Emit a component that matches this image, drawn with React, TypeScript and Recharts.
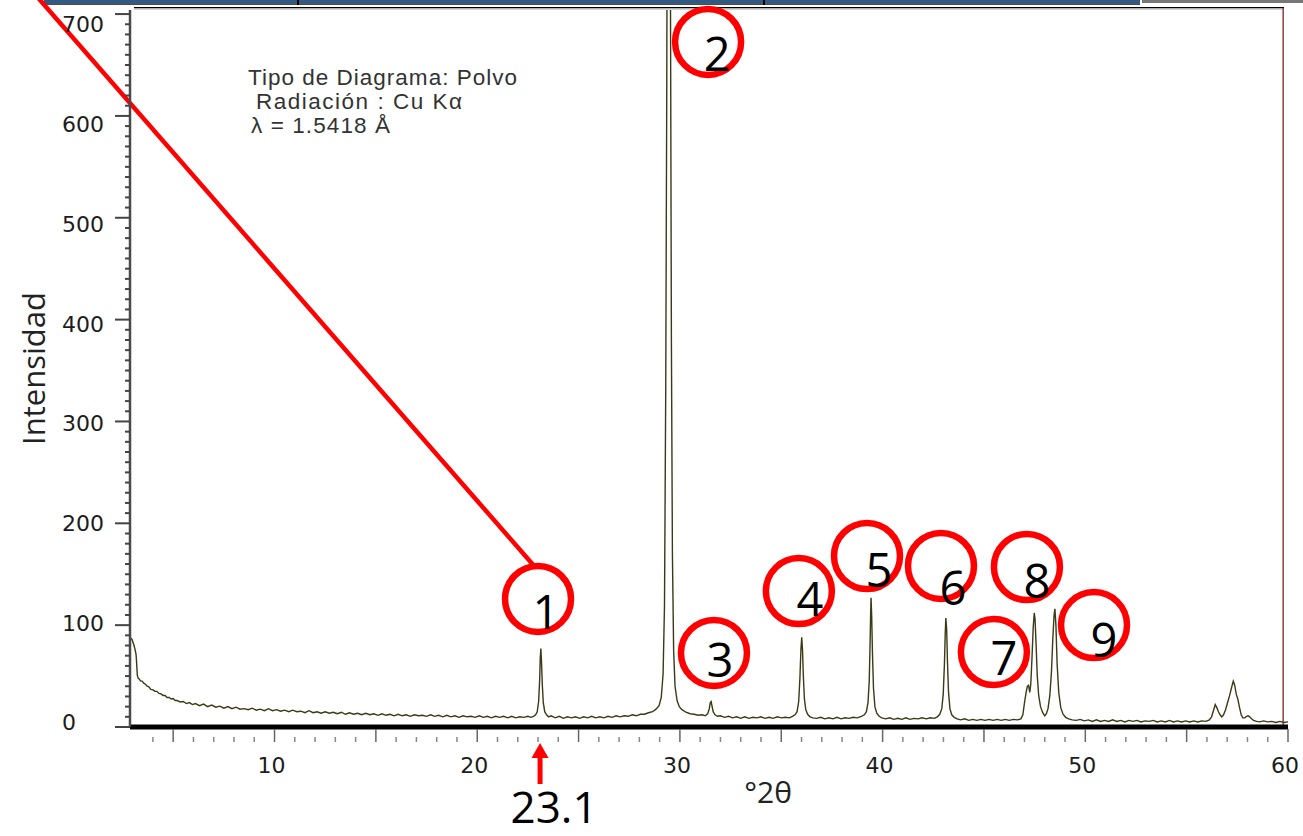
import React from 'react';
import { LineChart, Line, XAxis, YAxis, ReferenceDot, ReferenceLine } from 'recharts';

// scan: [°2θ, intensity]
const lowAngle: [number, number][] = [
  [2.87, 88], [2.92, 87], [2.97, 86], [3.02, 83], [3.07, 80], [3.12, 76], [3.17, 71], [3.2, 62], [3.23, 51],
  [3.27, 48], [3.33, 47], [3.4, 45], [3.47, 45], [3.55, 43], [3.63, 42], [3.72, 40], [3.8, 39.5], [3.9, 37],
  [4.0, 36.5], [4.1, 35], [4.2, 35], [4.3, 33], [4.4, 32.5], [4.5, 31], [4.6, 31], [4.7, 29], [4.8, 29],
  [4.9, 27.5], [5.0, 28], [5.1, 26], [5.2, 26], [5.35, 24.5], [5.5, 25], [5.65, 23], [5.8, 24], [5.95, 22],
];

const background: [number, number][] = [
  [6.1, 23], [6.3, 21], [6.5, 22.5], [6.7, 20], [6.9, 21.5], [7.1, 19.5], [7.3, 20.5], [7.5, 18.5], [7.7, 20],
  [7.9, 18], [8.1, 19.5], [8.3, 17.5], [8.5, 18], [8.7, 17], [8.9, 18.5], [9.1, 16.5], [9.3, 17.5], [9.5, 16],
  [9.7, 18], [9.9, 16], [10.1, 17], [10.3, 15.5], [10.5, 16.5], [10.7, 15], [10.9, 16.5], [11.1, 15], [11.3, 15.5],
  [11.5, 14], [11.7, 16], [11.9, 14], [12.1, 15], [12.3, 13.5], [12.5, 15], [12.7, 13.5], [12.9, 14.5], [13.1, 13],
  [13.3, 14.5], [13.5, 12.5], [13.7, 14], [13.9, 12.5], [14.1, 13.5], [14.3, 12], [14.5, 13.5], [14.7, 12],
  [14.9, 13], [15.1, 11.5], [15.3, 13], [15.5, 11.5], [15.7, 12.5], [15.9, 11], [16.1, 12.5], [16.3, 11],
  [16.5, 12], [16.7, 10.5], [16.9, 12], [17.1, 11], [17.3, 11.5], [17.5, 10.5], [17.7, 12], [17.9, 10.5],
  [18.1, 11.5], [18.3, 10], [18.5, 11.5], [18.7, 10], [18.9, 11], [19.1, 9.5], [19.3, 11], [19.5, 10],
  [19.7, 10.5], [19.9, 9.5], [20.1, 11], [20.3, 9.5], [20.5, 10.5], [20.7, 9], [20.9, 10.5], [21.1, 9.5],
  [21.3, 10.5], [21.5, 9], [21.7, 10.5], [21.9, 9], [22.1, 10], [22.3, 9.5], [22.5, 10.5], [22.65, 9.5],
];

const peak1: [number, number][] = [
  [22.78, 10.5], [22.88, 12], [22.96, 15], [23.03, 25], [23.08, 46], [23.11, 68], [23.14, 77], [23.17, 65],
  [23.21, 42], [23.26, 24], [23.33, 15], [23.42, 12], [23.52, 10],
];

const mainPeak: [number, number][] = [
  [23.65, 11], [23.85, 9], [24.05, 10.5], [24.25, 8.5], [24.45, 10], [24.65, 9], [24.85, 10], [25.05, 8.5],
  [25.25, 10], [25.45, 9], [25.65, 10.5], [25.85, 9], [26.05, 10], [26.25, 9], [26.45, 10.5], [26.65, 9.5],
  [26.85, 11], [27.05, 10], [27.25, 11], [27.45, 10.5], [27.65, 12], [27.85, 11], [28.05, 12.5], [28.25, 12.5],
  [28.45, 14], [28.65, 15], [28.82, 17.5], [28.97, 21], [29.08, 29], [29.17, 52], [29.24, 120], [29.3, 330],
  [29.35, 620], [29.39, 950], [29.45, 1400], [29.5, 1000], [29.54, 680], [29.58, 380], [29.63, 170], [29.69, 75],
  [29.76, 40], [29.86, 26], [29.97, 20], [30.1, 17], [30.3, 14.5], [30.5, 13], [30.7, 12.5], [30.9, 11.5],
  [31.1, 12], [31.25, 11],
];

const peaks3and4: [number, number][] = [
  [31.37, 13], [31.45, 18], [31.5, 24], [31.54, 25], [31.58, 21], [31.64, 15], [31.73, 12], [31.85, 10.5],
  [32.0, 11], [32.2, 9.5], [32.4, 10.5], [32.6, 9], [32.8, 10], [33.0, 8.5], [33.2, 10], [33.4, 8.5], [33.6, 9.5],
  [33.8, 9], [34.0, 10], [34.2, 8.5], [34.4, 9.5], [34.6, 8.5], [34.8, 10], [35.0, 9], [35.2, 9.5], [35.4, 9],
  [35.55, 10.5], [35.68, 12], [35.78, 15], [35.86, 25], [35.92, 48], [35.97, 76], [36.01, 88], [36.05, 75],
  [36.09, 50], [36.14, 28], [36.21, 17], [36.3, 12.5], [36.42, 10], [36.56, 9],
];

const peaks5and6: [number, number][] = [
  [36.75, 8.5], [36.95, 9.5], [37.15, 8], [37.35, 9], [37.55, 8], [37.75, 9.5], [37.95, 8], [38.15, 9],
  [38.35, 8.5], [38.55, 9.5], [38.75, 9], [38.95, 10.5], [39.1, 12], [39.2, 15], [39.28, 24], [39.34, 45],
  [39.38, 80], [39.41, 112], [39.43, 127], [39.46, 110], [39.5, 72], [39.55, 38], [39.62, 20], [39.71, 13.5],
  [39.83, 10.5], [39.96, 9], [40.15, 8], [40.35, 9], [40.55, 7.5], [40.75, 8.5], [40.95, 7.5], [41.15, 9],
  [41.35, 7.5], [41.55, 8.5], [41.75, 8], [41.95, 9], [42.15, 8], [42.35, 9], [42.55, 8.5], [42.7, 10],
  [42.82, 12.5], [42.92, 18], [42.99, 32], [43.05, 62], [43.09, 92], [43.12, 107], [43.16, 96], [43.2, 64],
  [43.25, 35], [43.32, 18], [43.41, 12], [43.53, 9.5], [43.68, 8],
];

const triplet: [number, number][] = [
  [43.85, 7], [44.05, 8], [44.25, 6.5], [44.45, 7.5], [44.65, 6.5], [44.85, 7.5], [45.05, 6.5], [45.25, 7.5],
  [45.45, 6.5], [45.65, 7.5], [45.85, 6.5], [46.05, 7.5], [46.25, 6.5], [46.45, 7.5], [46.65, 7], [46.82, 8],
  [46.92, 12], [47.0, 24], [47.08, 34], [47.14, 40], [47.2, 41], [47.26, 34], [47.31, 42], [47.37, 68],
  [47.43, 98], [47.48, 112], [47.52, 106], [47.57, 82], [47.63, 50], [47.7, 31], [47.79, 20], [47.9, 14],
  [48.0, 11], [48.08, 13], [48.16, 18], [48.25, 31], [48.33, 54], [48.4, 88], [48.46, 110], [48.5, 116],
  [48.55, 100], [48.61, 62], [48.69, 34], [48.79, 19], [48.9, 12.5], [49.03, 9.5], [49.18, 8], [49.35, 7],
];

const highAngle: [number, number][] = [
  [49.55, 6.5], [49.75, 7.5], [49.95, 6], [50.15, 7], [50.35, 5.5], [50.55, 7], [50.75, 5.5], [50.95, 6.5],
  [51.15, 5.5], [51.35, 7], [51.55, 5.5], [51.75, 6.5], [51.95, 5], [52.15, 6.5], [52.35, 5.5], [52.55, 6.5],
  [52.75, 5], [52.95, 6], [53.15, 5.5], [53.35, 6.5], [53.55, 5], [53.75, 6], [53.95, 5], [54.15, 6.5],
  [54.35, 5], [54.55, 6], [54.75, 5], [54.95, 6], [55.15, 5], [55.35, 6], [55.55, 5], [55.75, 6], [55.95, 5.5],
  [56.12, 7], [56.23, 10], [56.32, 16], [56.41, 22], [56.49, 19], [56.57, 15], [56.65, 12], [56.73, 10],
  [56.82, 12], [56.92, 17], [57.02, 24], [57.12, 31], [57.22, 39], [57.3, 45], [57.37, 41], [57.45, 32],
  [57.53, 27], [57.61, 19], [57.69, 12], [57.77, 9], [57.87, 9], [57.96, 10.5], [58.03, 11], [58.11, 10],
  [58.2, 8], [58.3, 6.5], [58.45, 5.5], [58.6, 5], [58.8, 6], [59.0, 5], [59.2, 5.5], [59.4, 4.5], [59.6, 5.5],
  [59.8, 4.5], [60.0, 5],
];

const xLabels = [10, 20, 30, 40, 50, 60];
const yLabels = [0, 100, 200, 300, 400, 500, 600, 700];

// circled peak numbers: circle centre in data units, digit offset in px
const peakMarks = [
  { label: '1', twoTheta: 23.0, counts: 125.7, dx: 8, dy: 13 },
  { label: '2', twoTheta: 31.39, counts: 672.6, dx: 9, dy: 12 },
  { label: '3', twoTheta: 31.68, counts: 72.7, dx: 6, dy: 7 },
  { label: '4', twoTheta: 35.87, counts: 133.5, dx: 11, dy: 8 },
  { label: '5', twoTheta: 39.23, counts: 167.9, dx: 12, dy: 14 },
  { label: '6', twoTheta: 42.88, counts: 158.1, dx: 12, dy: 22 },
  { label: '7', twoTheta: 45.49, counts: 73.6, dx: 10, dy: 6 },
  { label: '8', twoTheta: 47.12, counts: 157.1, dx: 10, dy: 14 },
  { label: '9', twoTheta: 50.43, counts: 100.1, dx: 10, dy: 15 },
];

const scan = [...lowAngle, ...background, ...peak1, ...mainPeak, ...peaks3and4, ...peaks5and6, ...triplet, ...highAngle]
  .map(([twoTheta, counts]) => ({ twoTheta, counts }));

const xTicks = Array.from({ length: 57 }, (_, i) => i + 4);
const yTicks = Array.from({ length: 71 }, (_, i) => i * 10);

const tickFont = { fontFamily: '"DejaVu Sans", sans-serif', fontSize: 22, fill: '#1c1c1c' };

const XTick = ({ x, y, payload }: any) => {
  const v = payload.value;
  const major = v % 5 === 0;
  return (
    <g>
      <line x1={x} x2={x} y1={major ? y + 2 : y + 10} y2={y + 15} stroke={major ? '#666' : '#888'} strokeWidth={1.5} />
      {xLabels.includes(v) && (
        <text x={x - 3} y={y + 46} textAnchor="middle" {...tickFont}>{v}</text>
      )}
    </g>
  );
};

const YTick = ({ x, y, payload }: any) => {
  const v = payload.value;
  const major = yLabels.includes(v);
  return (
    <g>
      <line x1={major ? x - 15 : x - 5} x2={x} y1={y} y2={y} stroke="#444" strokeWidth={2} />
      {major && (
        <text x={x - 68} y={y + 3.4 + (15 * v) / 700} textAnchor="start" {...tickFont}>{v}</text>
      )}
    </g>
  );
};

const CircleMark = ({ cx, cy, mark }: any) => (
  <g>
    <circle cx={cx} cy={cy} r={33} fill="none" stroke="#ff0000" strokeWidth={6.5} />
    <text x={cx + mark.dx} y={cy + mark.dy + 17} textAnchor="middle"
      style={{ fontFamily: '"Open Sans", sans-serif', fontSize: 47 }} fill="#000">{mark.label}</text>
  </g>
);

const PeakArrow = ({ cx, cy }: any) => (
  <g>
    <polygon points={`${cx},${cy + 16} ${cx - 8.5},${cy + 31} ${cx + 8.5},${cy + 31}`} fill="#ff0000" />
    <rect x={cx - 2.5} y={cy + 30} width={5} height={27} fill="#ff0000" />
    <text x={cx + 14} y={cy + 96} textAnchor="middle"
      style={{ fontFamily: '"Open Sans", sans-serif', fontSize: 44 }} fill="#000">23.1</text>
  </g>
);

export default function App() {
  return (
    <div style={{ position: 'relative', width: 1303, height: 836, background: '#fff', overflow: 'hidden' }}>
      <style>{'body{margin:0}'}</style>

      {/* window chrome above the plot */}
      <svg width={1303} height={836} style={{ position: 'absolute', left: 0, top: 0, pointerEvents: 'none' }}>
        <rect x={44} y={0} width={1096} height={3.5} fill="#2d5a88" />
        <rect x={44} y={3.5} width={1096} height={1.2} fill="#000" />
        <rect x={297} y={0} width={2} height={5} fill="#000" />
        <rect x={763} y={0} width={2} height={5} fill="#000" />
        <rect x={1142} y={0} width={161} height={3} fill="#777" />
        <rect x={134} y={7} width={1150} height={1.3} fill="#000" />
        <rect x={134} y={8.5} width={1150} height={1} fill="#aaa" />
        <rect x={1282.5} y={8} width={1.3} height={718} fill="#7a2626" />
        <g style={{ fontFamily: '"Liberation Sans", Arial, sans-serif', fontSize: 22.5 }} fill="#333">
          <text x={248} y={85} textLength={269} lengthAdjust="spacing">Tipo de Diagrama: Polvo</text>
          <text x={256} y={109} textLength={206} lengthAdjust="spacing">Radiación : Cu Kα</text>
          <text x={251} y={133} textLength={139} lengthAdjust="spacing">λ = 1.5418 Å</text>
        </g>
      </svg>

      <div style={{ position: 'absolute', left: 0, top: 0 }}>
        <LineChart width={1303} height={836} data={scan} margin={{ top: 10, right: 15, bottom: 0, left: 0 }}>
          <XAxis
            dataKey="twoTheta"
            type="number"
            domain={[2.87, 60]}
            allowDataOverflow
            ticks={xTicks}
            interval={0}
            tick={(p: any) => <XTick {...p} />}
            tickLine={false}
            tickSize={0}
            tickMargin={0}
            axisLine={{ stroke: '#000', strokeWidth: 5 }}
            height={109}
            label={({ viewBox }: any) => (
              <text x={viewBox.x + viewBox.width / 2 + 59} y={viewBox.y + 76} textAnchor="middle"
                style={{ fontFamily: '"Open Sans", sans-serif', fontSize: 30 }} fill="#222">°2θ</text>
            )}
          />
          <YAxis
            type="number"
            domain={[0, 704]}
            allowDataOverflow
            ticks={yTicks}
            interval={0}
            width={130}
            tick={(p: any) => <YTick {...p} />}
            tickLine={false}
            tickSize={0}
            tickMargin={0}
            axisLine={{ stroke: '#4a4a4a', strokeWidth: 2.5 }}
            label={({ viewBox }: any) => {
              const cx = viewBox.x + 33;
              const cy = viewBox.y + viewBox.height / 2;
              return (
                <text x={cx} y={cy} transform={`rotate(-90 ${cx} ${cy})`} textAnchor="middle" dominantBaseline="central"
                  style={{ fontFamily: '"Open Sans", sans-serif', fontSize: 31 }} fill="#222">Intensidad</text>
              );
            }}
          />
          <Line dataKey="counts" type="linear" dot={false} stroke="#3a3a16" strokeWidth={1.4} isAnimationActive={false} />
          <ReferenceLine
            segment={[{ x: -2.0, y: 723.6 }, { x: 22.85, y: 157.1 }]}
            stroke="#ff0000"
            strokeWidth={4.5}
            ifOverflow="visible"
          />
          {peakMarks.map((m) => (
            <ReferenceDot key={m.label} x={m.twoTheta} y={m.counts} ifOverflow="visible"
              shape={(p: any) => <CircleMark {...p} mark={m} />} />
          ))}
          <ReferenceDot x={23.1} y={0} ifOverflow="visible" shape={(p: any) => <PeakArrow {...p} />} />
        </LineChart>
      </div>
    </div>
  );
}
